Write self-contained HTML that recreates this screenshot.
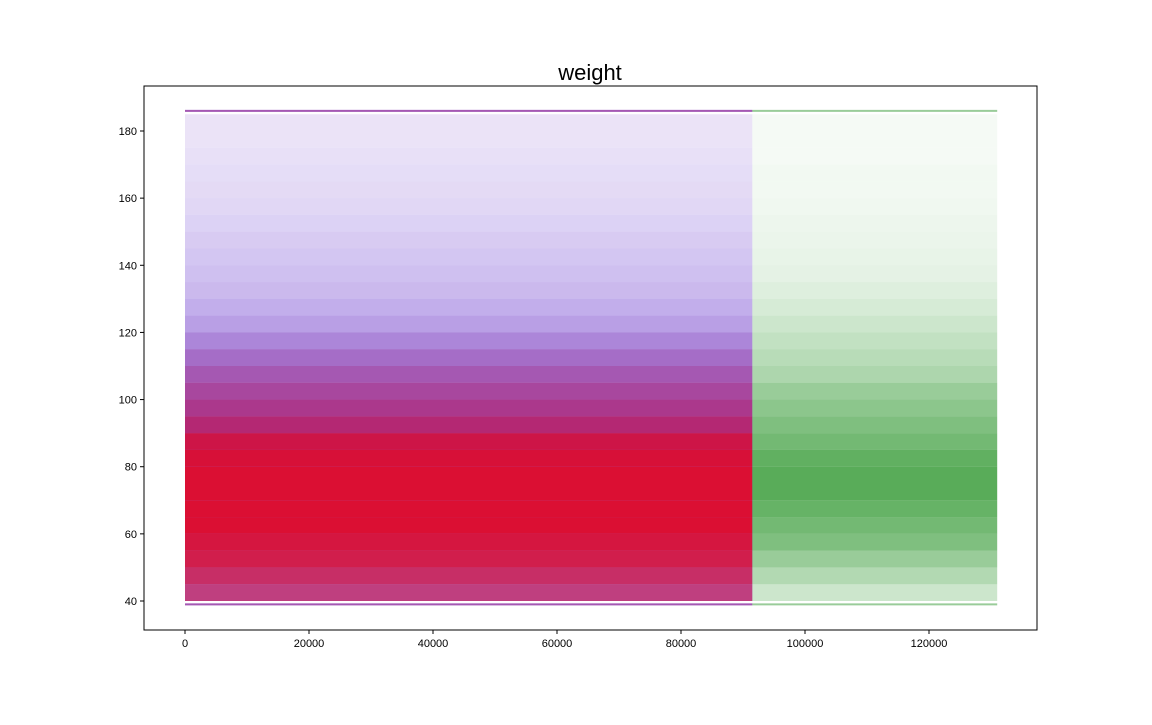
<!DOCTYPE html>
<html><head><meta charset="utf-8"><style>
body{margin:0;background:#fff;font-family:"Liberation Sans",sans-serif}
</style></head><body>
<svg width="1152" height="720" xmlns="http://www.w3.org/2000/svg">
<text x="590" y="80" text-anchor="middle" font-size="22" font-family="Liberation Sans, sans-serif">weight</text>
<g id="plot"></g>
<rect x="144" y="86" width="893" height="544" fill="none" stroke="#000" stroke-width="1"/>
<g id="xt"></g>
<g id="yt"></g>
</svg>
<script>
const yBinStart=[40,45,50,55,60,65,70,75,80,85,90,95,100,105,110,115,120,125,130,135,140,145,150,155,160,165,170,175,180];
const blueDensity=[0.5,0.55,0.6,0.65,0.7,0.7,0.7,0.7,0.7,0.7,0.65,0.6,0.55,0.5,0.45,0.38,0.3,0.26,0.22,0.2,0.18,0.16,0.14,0.12,0.11,0.1,0.09,0.08,0.08];
const redDensity=[0.5,0.6,0.7,0.75,0.8,0.8,0.8,0.8,0.78,0.72,0.55,0.45,0.38,0.3,0.22,0.15,0.1,0.08,0.07,0.06,0.05,0.05,0.04,0.04,0.04,0.03,0.03,0.03,0.03];
const greenDensity=[0.2,0.3,0.4,0.5,0.55,0.6,0.65,0.65,0.62,0.55,0.5,0.45,0.4,0.32,0.28,0.24,0.2,0.16,0.13,0.1,0.09,0.08,0.07,0.06,0.05,0.05,0.04,0.04,0.04];
const binWidth=5;
const trainRange=[0,91500];
const testRange=[91500,131000];
const capValues=[39,186];
const xTicks=[0,20000,40000,60000,80000,100000,120000];
const yTicks=[40,60,80,100,120,140,160,180];
const NS="http://www.w3.org/2000/svg";
const xs=v=>185+v*124/20000;
const ys=v=>601-(v-40)*470/140;
const plot=document.getElementById('plot');
function mk(tag,attrs,parent){const e=document.createElementNS(NS,tag);for(const k in attrs)e.setAttribute(k,attrs[k]);parent.appendChild(e);return e;}
function layer(dens,range,color,name,capOp){
  yBinStart.forEach((y0,i)=>{
    const top=Math.min(y0+binWidth,186);
    const r=mk('rect',{x:xs(range[0]),y:ys(top),width:xs(range[1])-xs(range[0]),height:ys(Math.max(y0,39))-ys(top),fill:color,'fill-opacity':dens[i]},plot);
    
    
  });
  capValues.forEach(c=>{
    const l=mk('line',{x1:xs(range[0]),x2:xs(range[1]),y1:ys(c),y2:ys(c),stroke:color,'stroke-opacity':capOp,'stroke-width':2},plot);
    
    
  });
}
layer(blueDensity,trainRange,'#0000ff','blue-series',0.5);
layer(redDensity,trainRange,'#ff0000','red-series',0.3);
layer(greenDensity,testRange,'#008000','green-series',0.4);
const xt=document.getElementById('xt'),yt=document.getElementById('yt');
xTicks.forEach(v=>{
  const l=mk('line',{x1:xs(v),x2:xs(v),y1:630,y2:634,stroke:'#000'},xt);
  
  
  const t=mk('text',{x:xs(v),y:647,'text-anchor':'middle','font-size':11,'font-family':'Liberation Sans, sans-serif'},xt);
  t.textContent=v;
  
  
});
yTicks.forEach(v=>{
  const l=mk('line',{x1:140,x2:144,y1:ys(v),y2:ys(v),stroke:'#000'},yt);
  
  
  const t=mk('text',{x:137,y:ys(v)+4,'text-anchor':'end','font-size':11,'font-family':'Liberation Sans, sans-serif'},yt);
  t.textContent=v;
  
  
});
</script>
</body></html>
